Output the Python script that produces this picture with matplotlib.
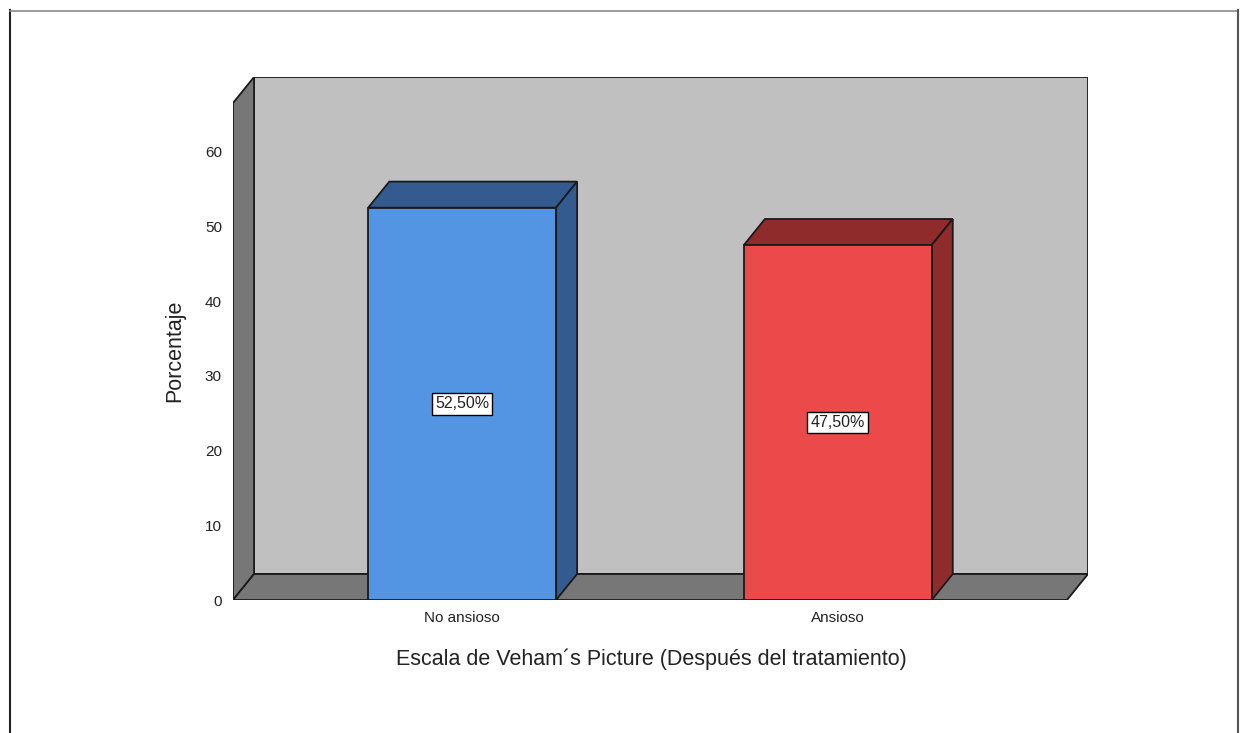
import matplotlib.pyplot as plt
from matplotlib.lines import Line2D
from matplotlib.patches import Polygon, Rectangle

plt.rcParams["font.family"] = ["Liberation Sans", "DejaVu Sans"]

categories = ["No ansioso", "Ansioso"]
percentages = [52.5, 47.5]
y_ticks = [0, 10, 20, 30, 40, 50, 60]

face_colors = ["#5495e3", "#ec4a4a"]
dark_colors = ["#345b8f", "#902b2b"]

# 3D look: depth offset (x in category units, y in percent)
dx, dy = 0.056, 3.48
bar_w = 0.5
x_left, x_right = -0.610, 1.610
y_top = 66.5

fig = plt.figure(figsize=(12.46, 7.33), dpi=100)
ax = fig.add_axes([233 / 1246, 133 / 733, 855 / 1246, 523 / 733])
ax.set_xlim(x_left, x_right + dx)
ax.set_ylim(0, y_top + dy)

edge = dict(edgecolor="#1a1a1a", linewidth=1.3, joinstyle="miter")

# back wall, left wall, floor
ax.add_patch(Rectangle((x_left + dx, dy), x_right - x_left, y_top,
                       facecolor="#c0c0c0", zorder=1, **edge))
ax.add_patch(Polygon([(x_left, 0), (x_left, y_top), (x_left + dx, y_top + dy),
                      (x_left + dx, dy)], closed=True, facecolor="#777777",
                     zorder=2, **edge))
ax.add_patch(Polygon([(x_left, 0), (x_right, 0), (x_right + dx, dy),
                      (x_left + dx, dy)], closed=True, facecolor="#777777",
                     zorder=2, **edge))

for i, (v, fc, dc) in enumerate(zip(percentages, face_colors, dark_colors)):
    x0, x1 = i - bar_w / 2, i + bar_w / 2
    ax.add_patch(Polygon([(x0, v), (x1, v), (x1 + dx, v + dy), (x0 + dx, v + dy)],
                         closed=True, facecolor=dc, zorder=3, **edge))
    ax.add_patch(Polygon([(x1, 0), (x1 + dx, dy), (x1 + dx, v + dy), (x1, v)],
                         closed=True, facecolor=dc, zorder=3, **edge))
    ax.add_patch(Rectangle((x0, 0), bar_w, v, facecolor=fc, zorder=4, **edge))
    ax.text(i, v / 2, f"{v:.2f}".replace(".", ",") + "%", ha="center",
            va="center", fontsize=11.5, color="#222222", zorder=5,
            bbox=dict(boxstyle="square,pad=0.2", facecolor="white",
                      edgecolor="black", linewidth=1))

for s in ax.spines.values():
    s.set_visible(False)
ax.set_yticks(y_ticks)
ax.set_xticks(range(len(categories)))
ax.set_xticklabels(categories)
ax.tick_params(axis="both", length=0, labelsize=11, colors="#222222")
ax.tick_params(axis="y", pad=8)
ax.tick_params(axis="x", pad=8)

ax.set_xlabel("Escala de Veham´s Picture (Después del tratamiento)",
              fontsize=15.5, color="#222222")
ax.xaxis.set_label_coords(0.489, -0.092)
ax.set_ylabel("Porcentaje", fontsize=15.5, color="#222222")
ax.yaxis.set_label_coords(-0.056, 0.476)

# outer frame
fig.add_artist(Line2D([9.5 / 1246, 9.5 / 1246], [0, 1 - 10 / 733],
                      color="#222222", linewidth=1.5))
fig.add_artist(Line2D([9.5 / 1246, 1238 / 1246], [1 - 10.5 / 733, 1 - 10.5 / 733],
                      color="#8a8a8a", linewidth=1.2))
fig.add_artist(Line2D([1238 / 1246, 1238 / 1246], [0, 1 - 10 / 733],
                      color="#555555", linewidth=1.5))

fig.savefig("out.png", dpi=100)
